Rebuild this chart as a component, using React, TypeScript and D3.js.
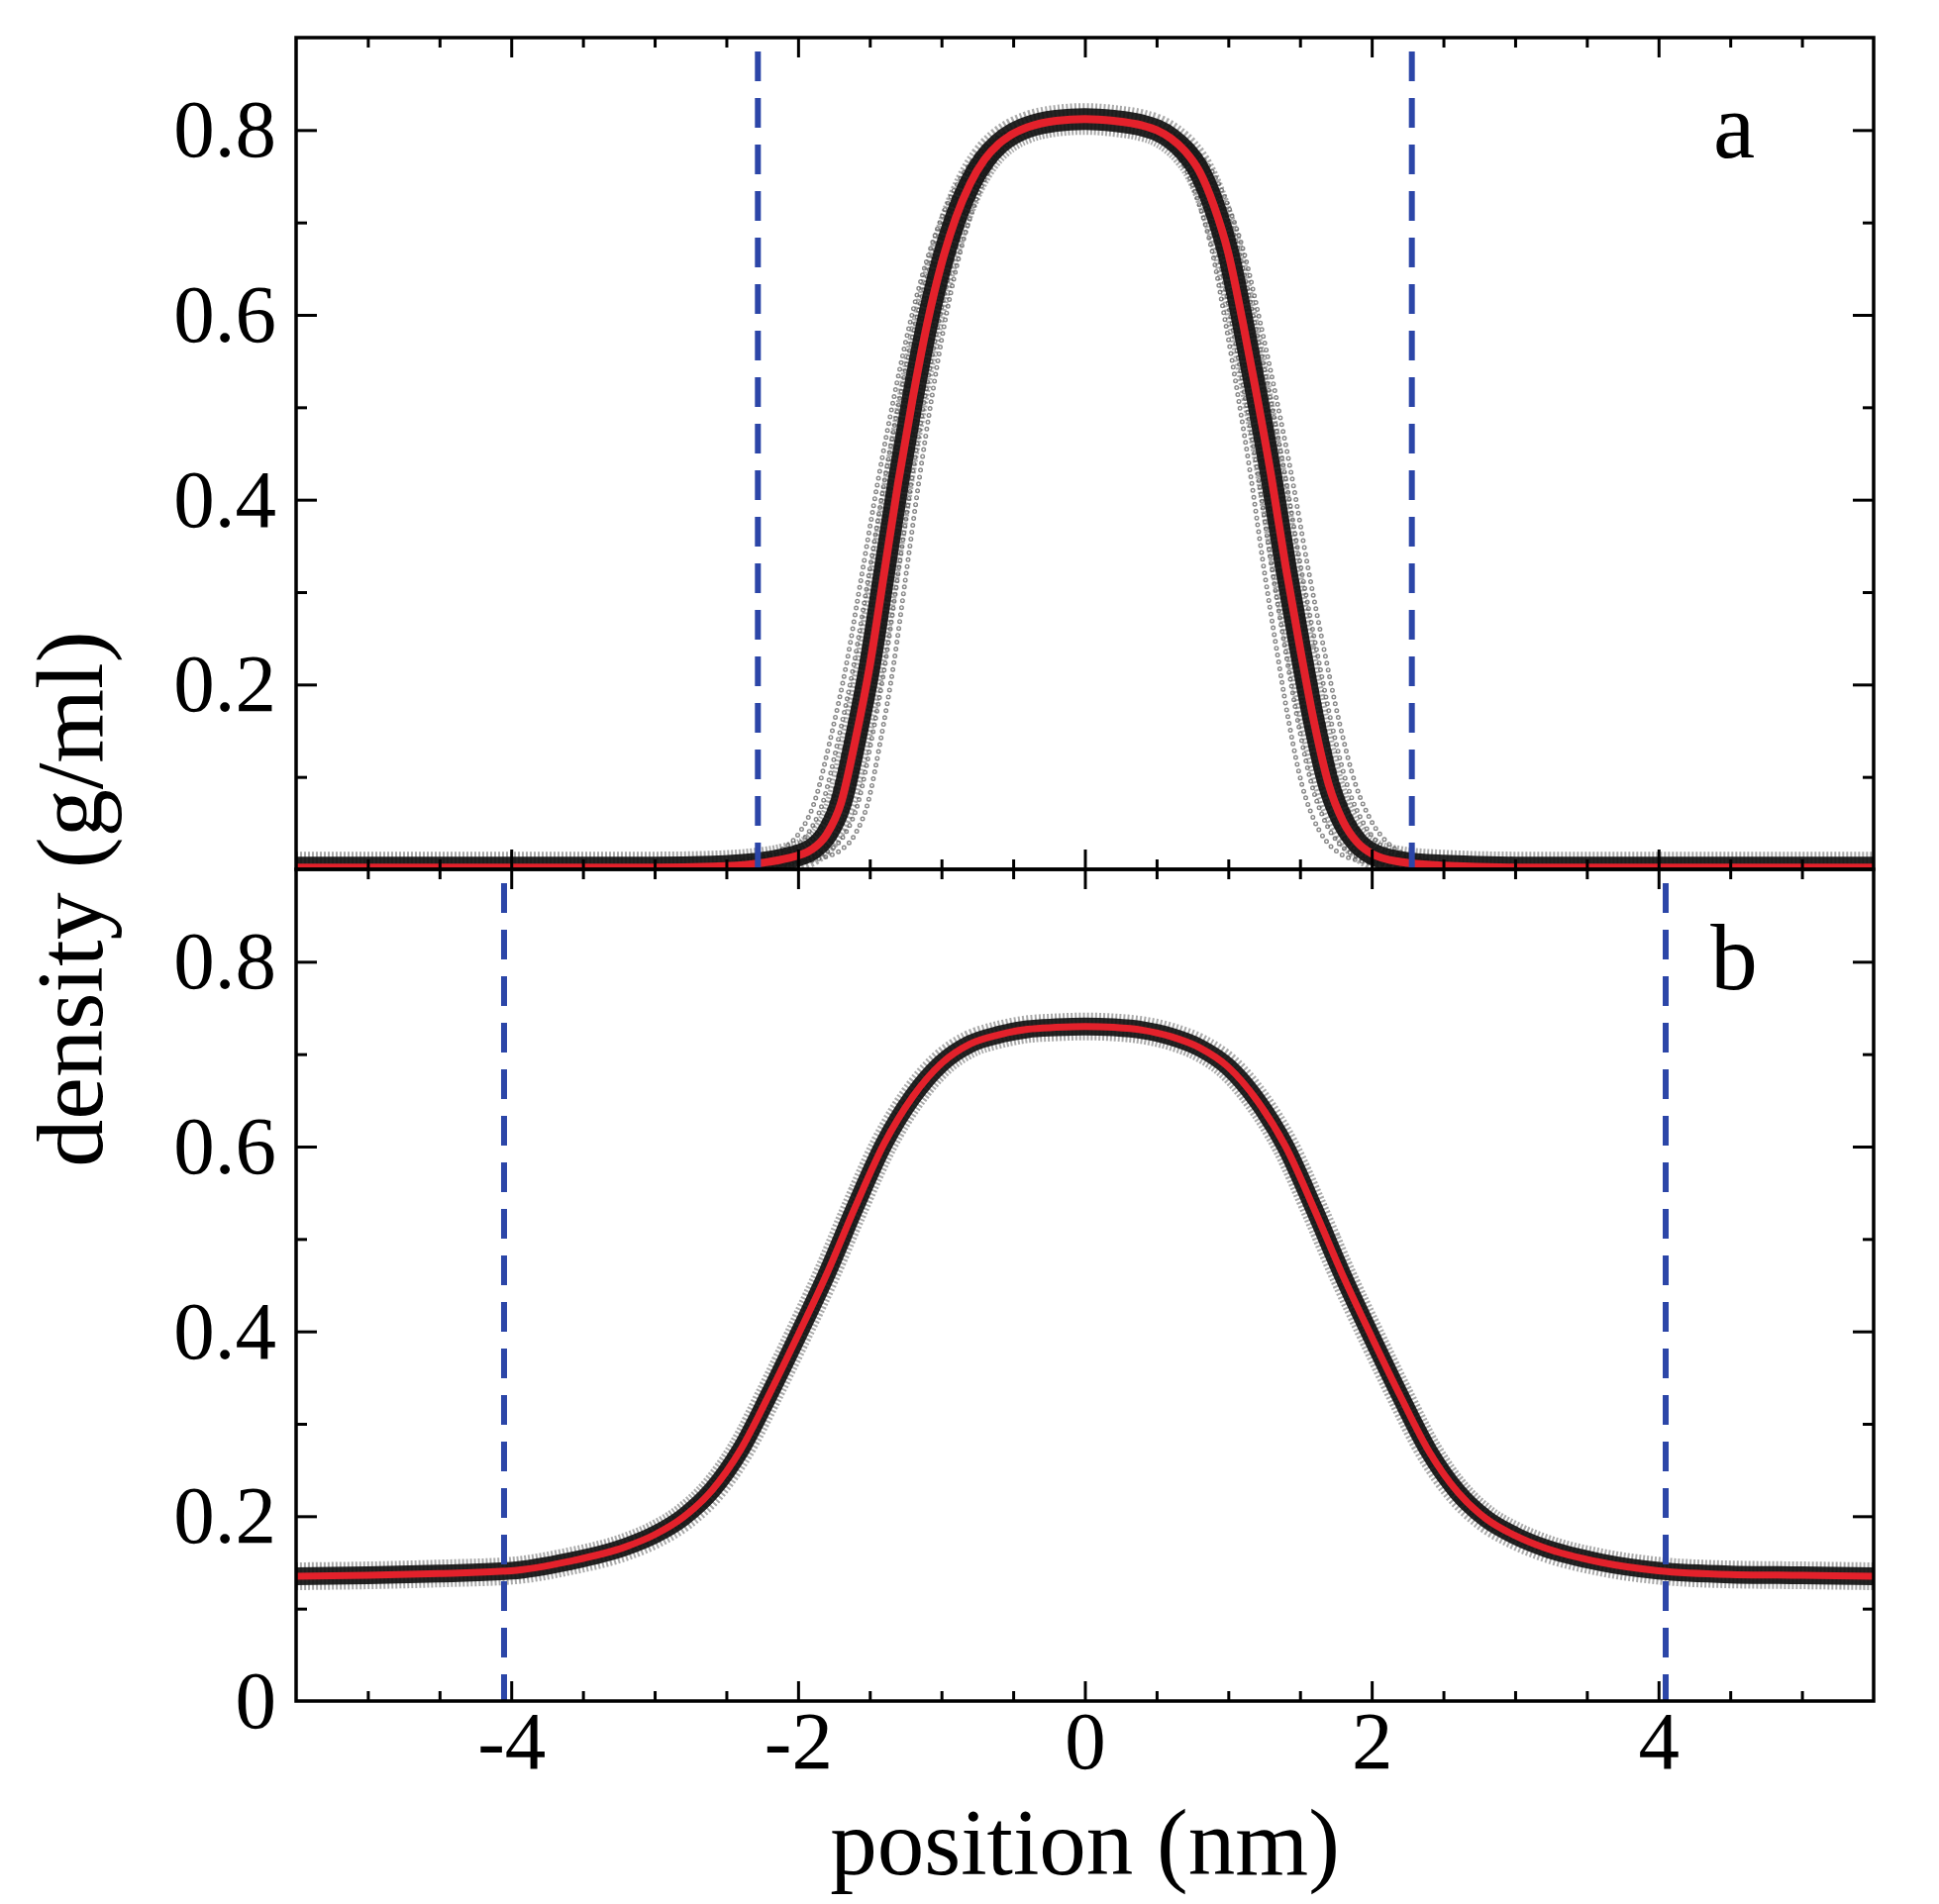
import * as d3 from 'd3';
import * as React from 'react';

// values: position (nm) -> density (g/ml)
const positionA = [-5.5, -3.0, -2.6, -2.3, -2.1, -1.9, -1.8, -1.7, -1.6, -1.5, -1.4, -1.3, -1.2, -1.1, -1.0, -0.9, -0.8, -0.7, -0.6, -0.5, -0.4, -0.2, 0, 0.2, 0.4, 0.5, 0.6, 0.7, 0.8, 0.9, 1.0, 1.1, 1.2, 1.3, 1.4, 1.5, 1.6, 1.7, 1.8, 1.9, 2.0, 2.2, 2.5, 3.0, 5.5];
const densityA = [0.002, 0.002, 0.003, 0.006, 0.011, 0.022, 0.038, 0.072, 0.14, 0.22, 0.32, 0.42, 0.51, 0.59, 0.655, 0.705, 0.742, 0.768, 0.785, 0.796, 0.803, 0.81, 0.812, 0.81, 0.805, 0.8, 0.791, 0.777, 0.755, 0.718, 0.667, 0.593, 0.512, 0.425, 0.328, 0.24, 0.158, 0.092, 0.052, 0.029, 0.017, 0.008, 0.004, 0.002, 0.002];

const positionB = [-5.5, -5.0, -4.5, -4.0, -3.6, -3.2, -3.0, -2.8, -2.6, -2.4, -2.2, -2.0, -1.8, -1.6, -1.4, -1.2, -1.0, -0.8, -0.6, -0.4, -0.2, 0, 0.2, 0.4, 0.6, 0.8, 1.0, 1.2, 1.4, 1.6, 1.8, 2.0, 2.2, 2.4, 2.6, 2.8, 3.0, 3.2, 3.6, 4.0, 4.5, 5.0, 5.5];
const densityB = [0.135, 0.136, 0.138, 0.141, 0.151, 0.167, 0.18, 0.199, 0.228, 0.272, 0.332, 0.396, 0.462, 0.535, 0.603, 0.654, 0.69, 0.711, 0.721, 0.727, 0.729, 0.73, 0.729, 0.726, 0.719, 0.707, 0.686, 0.65, 0.6, 0.532, 0.46, 0.394, 0.33, 0.27, 0.226, 0.197, 0.179, 0.166, 0.15, 0.141, 0.137, 0.136, 0.135];

// interface boundaries (dashed lines)
const boundsA = [-2.28, 2.28];
const boundsB = [-4.05, 4.05];

const majorX = [-4, -2, 0, 2, 4];
const minorX = [-5, -4.5, -3.5, -3, -2.5, -1.5, -1, -0.5, 0.5, 1, 1.5, 2.5, 3, 3.5, 4.5, 5];
const labelsYA = [0.2, 0.4, 0.6, 0.8];
const labelsYB = [0, 0.2, 0.4, 0.6, 0.8];
const majorY = [0.2, 0.4, 0.6, 0.8];
const minorY = [0.1, 0.3, 0.5, 0.7];

const W = 1958;
const H = 1923;
const FONT = '"Liberation Serif", "Times New Roman", serif';

const App = () => {
  const ref = React.useRef<SVGSVGElement | null>(null);

  React.useEffect(() => {
    if (!ref.current) return;
    const svg = d3.select(ref.current);
    svg.selectAll('*').remove();

    const left = 299;
    const right = 1892;
    const x = d3.scaleLinear().domain([-5.5, 5.5]).range([left, right]);
    const x0 = x(0);

    const panels = [
      { id: 'a', pos: positionA, dens: densityA, bounds: boundsA, labels: labelsYA, top: 38, bottom: 878, band: 22, red: 8, spread: [0.89, 0.93, 0.965, 1.04, 1.075, 1.11] },
      { id: 'b', pos: positionB, dens: densityB, bounds: boundsB, labels: labelsYB, top: 878, bottom: 1718, band: 18, red: 7, spread: [0.982, 1.018] },
    ];

    panels.forEach((p, pi) => {
      const y = d3.scaleLinear().domain([0, 0.9]).range([p.bottom, p.top]);
      const g = svg.append('g');

      g.append('clipPath')
        .attr('id', `clip-${p.id}`)
        .append('rect')
        .attr('x', left)
        .attr('y', p.top)
        .attr('width', right - left)
        .attr('height', p.bottom - p.top);

      const line = d3
        .line<number>()
        .x((d, i) => x(p.pos[i]))
        .y((d) => y(d))
        .curve(d3.curveMonotoneX);
      const d = line(p.dens);

      const plot = g.append('g').attr('clip-path', `url(#clip-${p.id})`);

      // scattered samples around the mean profile: open grey circles
      p.spread.forEach((s) => {
        const tr = `translate(${x0},0) scale(${s},1) translate(${-x0},0)`;
        plot.append('path').attr('d', d).attr('transform', tr).attr('fill', 'none')
          .attr('stroke', '#555').attr('stroke-opacity', 0.7).attr('stroke-width', 5)
          .attr('stroke-dasharray', '0 7').attr('stroke-linecap', 'round')
          .attr('vector-effect', 'non-scaling-stroke');
        plot.append('path').attr('d', d).attr('transform', tr).attr('fill', 'none')
          .attr('stroke', '#fff').attr('stroke-width', 2.2)
          .attr('stroke-dasharray', '0 7').attr('stroke-linecap', 'round')
          .attr('vector-effect', 'non-scaling-stroke');
      });

      // grey halo + dense black cloud
      plot.append('path').attr('d', d).attr('fill', 'none')
        .attr('stroke', '#555').attr('stroke-opacity', 0.5).attr('stroke-width', p.band + 10)
        .attr('stroke-dasharray', '2 2');
      plot.append('path').attr('d', d).attr('fill', 'none')
        .attr('stroke', '#111').attr('stroke-opacity', 0.92).attr('stroke-width', p.band);

      // mean profile
      plot.append('path').attr('d', d).attr('fill', 'none')
        .attr('stroke', '#e3212b').attr('stroke-width', p.red);

      // dashed boundaries
      g.selectAll('line.bound')
        .data(p.bounds)
        .enter()
        .append('line')
        .attr('class', 'bound')
        .attr('x1', (b) => x(b))
        .attr('x2', (b) => x(b))
        .attr('y1', p.top + 14)
        .attr('y2', p.bottom)
        .attr('stroke', '#2c46a8')
        .attr('stroke-width', 6)
        .attr('stroke-dasharray', '30 17');

      const styleAxis = (sel, fontSize = 83) => {
        sel.select('.domain').remove();
        sel.selectAll('.tick line').attr('stroke', '#000').attr('stroke-width', 3);
        sel.attr('font-family', FONT).attr('font-size', fontSize);
        sel.selectAll('text').attr('fill', '#000');
      };

      // x ticks, inward on both edges
      const isBottom = pi === panels.length - 1;
      g.append('g')
        .attr('transform', `translate(0,${p.bottom})`)
        .call(
          d3.axisBottom(x).tickValues(majorX).tickSize(-20).tickPadding(9)
            .tickFormat((v) => (isBottom ? d3.format('d')(v as number).replace('−', '-') : ''))
        )
        .call(styleAxis);
      g.append('g')
        .attr('transform', `translate(0,${p.bottom})`)
        .call(d3.axisBottom(x).tickValues(minorX).tickSize(-10).tickFormat(() => ''))
        .call(styleAxis);
      g.append('g')
        .attr('transform', `translate(0,${p.top})`)
        .call(d3.axisTop(x).tickValues(majorX).tickSize(-20).tickFormat(() => ''))
        .call(styleAxis);
      g.append('g')
        .attr('transform', `translate(0,${p.top})`)
        .call(d3.axisTop(x).tickValues(minorX).tickSize(-10).tickFormat(() => ''))
        .call(styleAxis);

      // y ticks, inward on both edges
      g.append('g')
        .attr('transform', `translate(${left},0)`)
        .call(d3.axisLeft(y).tickValues(majorY).tickSize(-21).tickFormat(() => ''))
        .call(styleAxis);
      g.append('g')
        .attr('transform', `translate(${left},0)`)
        .call(d3.axisLeft(y).tickValues(minorY).tickSize(-11).tickFormat(() => ''))
        .call(styleAxis);
      g.append('g')
        .attr('transform', `translate(${right},0)`)
        .call(d3.axisRight(y).tickValues(majorY).tickSize(-21).tickFormat(() => ''))
        .call(styleAxis);
      g.append('g')
        .attr('transform', `translate(${right},0)`)
        .call(d3.axisRight(y).tickValues(minorY).tickSize(-11).tickFormat(() => ''))
        .call(styleAxis);

      // y tick labels
      g.append('g')
        .attr('transform', `translate(${left},0)`)
        .call(
          d3.axisLeft(y).tickValues(p.labels).tickSize(0).tickPadding(20)
            .tickFormat((v) => ((v as number) === 0 ? '0' : d3.format('.1f')(v as number)))
        )
        .call(styleAxis);

      // panel frame
      g.append('rect')
        .attr('x', left)
        .attr('y', p.top)
        .attr('width', right - left)
        .attr('height', p.bottom - p.top)
        .attr('fill', 'none')
        .attr('stroke', '#000')
        .attr('stroke-width', 3.5);

      // panel letter
      g.append('text')
        .attr('x', 1751)
        .attr('y', y(0.8) + 28)
        .attr('text-anchor', 'middle')
        .attr('font-family', FONT)
        .attr('font-size', 95)
        .text(p.id);
    });

    svg.append('text')
      .attr('x', x(0))
      .attr('y', 1893)
      .attr('text-anchor', 'middle')
      .attr('font-family', FONT)
      .attr('font-size', 95)
      .text('position (nm)');

    svg.append('text')
      .attr('transform', 'translate(103,908) rotate(-90)')
      .attr('text-anchor', 'middle')
      .attr('font-family', FONT)
      .attr('font-size', 96)
      .text('density (g/ml)');
  }, []);

  return (
    <svg
      ref={ref}
      width={W}
      height={H}
      style={{ position: 'absolute', left: 0, top: 0, background: '#fff' }}
    />
  );
};

export default App;
